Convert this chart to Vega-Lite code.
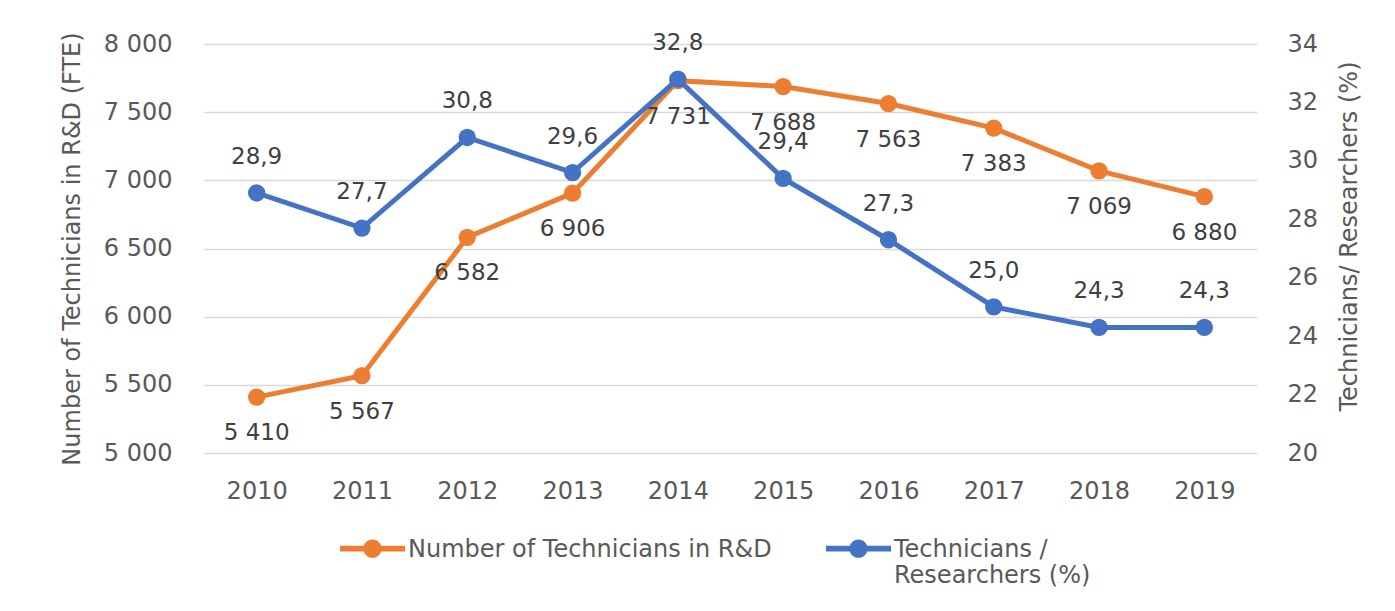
{
  "$schema": "https://vega.github.io/schema/vega-lite/v6.json",
  "width": 1053,
  "height": 409,
  "autosize": {"type": "none"},
  "padding": {"left": 204, "top": 44, "right": 138, "bottom": 158},
  "background": "white",
  "config": {
    "locale": {"number": {"decimal": ",", "thousands": " ", "grouping": [3], "currency": ["", ""]}},
    "font": "DejaVu Sans",
    "view": {"stroke": null},
    "axis": {"labelFont": "DejaVu Sans", "titleFont": "DejaVu Sans", "labelColor": "#595959", "titleColor": "#595959", "titleFontWeight": "normal", "domain": false, "ticks": false}
  },
  "data": {
    "values": [
      {"year": "2010", "tech": 5410, "ratio": 28.9},
      {"year": "2011", "tech": 5567, "ratio": 27.7},
      {"year": "2012", "tech": 6582, "ratio": 30.8},
      {"year": "2013", "tech": 6906, "ratio": 29.6},
      {"year": "2014", "tech": 7731, "ratio": 32.8},
      {"year": "2015", "tech": 7688, "ratio": 29.4},
      {"year": "2016", "tech": 7563, "ratio": 27.3},
      {"year": "2017", "tech": 7383, "ratio": 25.0},
      {"year": "2018", "tech": 7069, "ratio": 24.3},
      {"year": "2019", "tech": 6880, "ratio": 24.3}
    ]
  },
  "encoding": {
    "x": {"field": "year", "type": "ordinal", "scale": {"type": "point", "padding": 0.5},
          "axis": {"title": null, "labelAngle": 0, "labelFontSize": 24, "labelPadding": 26, "grid": false}}
  },
  "layer": [
    {
      "encoding": {
        "y": {"field": "tech", "type": "quantitative", "scale": {"domain": [5000, 8000], "nice": false, "zero": false},
              "axis": {"orient": "left", "values": [5000, 5500, 6000, 6500, 7000, 7500, 8000], "format": ",.0f",
                       "title": "Number of Technicians in R&D (FTE)", "titleFontSize": 24, "labelFontSize": 24,
                       "labelPadding": 32, "titlePadding": 19, "grid": true, "gridColor": "#d9d9d9", "gridWidth": 1.5}}
      },
      "layer": [
        {"mark": {"type": "line", "color": "#ED7D31", "strokeWidth": 5}},
        {"mark": {"type": "point", "filled": true, "opacity": 1, "size": 300},
         "encoding": {"color": {"datum": "Number of Technicians in R&D", "type": "nominal",
           "scale": {"domain": ["Number of Technicians in R&D", "Technicians / Researchers (%)"], "range": ["#ED7D31", "#4472C4"]},
           "legend": {"title": null, "orient": "none", "legendX": 136, "legendY": 480, "direction": "horizontal",
             "symbolType": "M-1,-0.34H1V-0.16H-1Z M0.28,-0.25A0.28,0.28,0,1,1,-0.28,-0.25A0.28,0.28,0,1,1,0.28,-0.25Z",
             "symbolSize": 4225, "symbolStrokeWidth": 0, "symbolOpacity": 1,
             "labelFont": "DejaVu Sans", "labelFontSize": 24, "labelColor": "#595959", "labelLimit": 500,
             "labelBaseline": "alphabetic", "labelOffset": 3, "columnPadding": 54,
             "labelExpr": "datum.label == 'Technicians / Researchers (%)' ? ['Technicians /', 'Researchers (%)'] : [datum.label, '']"}}}},
        {"mark": {"type": "text", "dy": 36, "fontSize": 23, "color": "#404040"},
         "encoding": {"text": {"field": "tech", "type": "quantitative", "format": ",.0f"}}}
      ]
    },
    {
      "encoding": {
        "y": {"field": "ratio", "type": "quantitative", "scale": {"domain": [20, 34], "nice": false, "zero": false},
              "axis": {"orient": "right", "values": [20, 22, 24, 26, 28, 30, 32, 34], "format": "d",
                       "title": "Technicians/ Researchers (%)", "titleFontSize": 24, "titleAngle": 270, "labelFontSize": 24,
                       "labelPadding": 30, "titlePadding": 44, "titleY": 192, "grid": false}}
      },
      "layer": [
        {"mark": {"type": "line", "color": "#4472C4", "strokeWidth": 5}},
        {"mark": {"type": "point", "filled": true, "opacity": 1, "size": 300},
         "encoding": {"color": {"datum": "Technicians / Researchers (%)", "type": "nominal"}}},
        {"mark": {"type": "text", "dy": -36, "fontSize": 23, "color": "#404040"},
         "encoding": {"text": {"field": "ratio", "type": "quantitative", "format": ".1f"}}}
      ]
    }
  ],
  "resolve": {"scale": {"y": "independent"}}
}
